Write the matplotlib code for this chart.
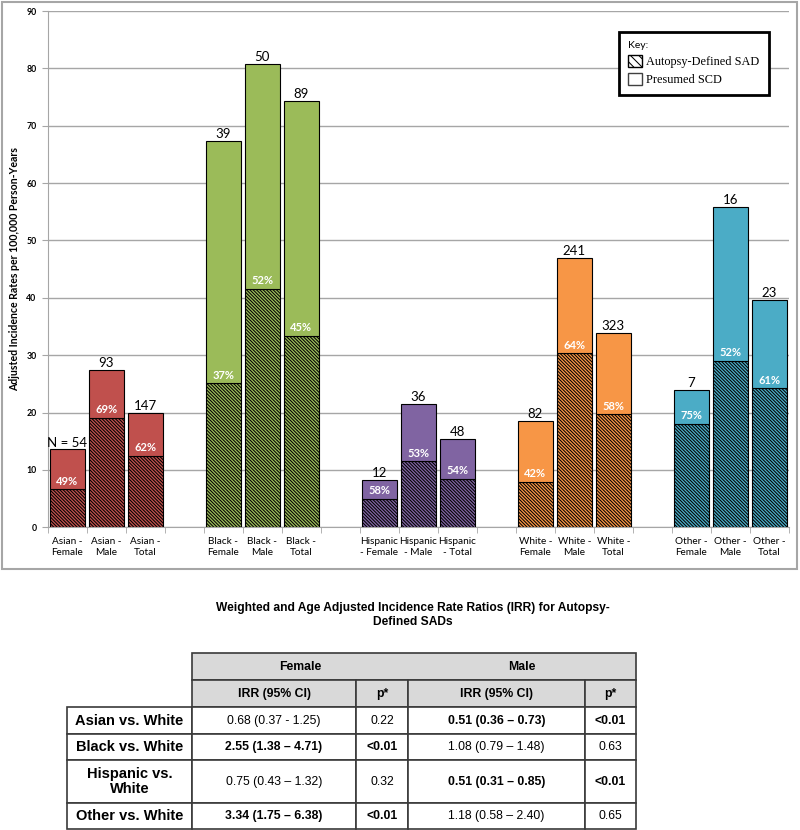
import numpy as np
import matplotlib
matplotlib.use('Agg')
import matplotlib.pyplot as plt
from matplotlib.patches import Patch, Rectangle
from matplotlib import font_manager

# bar chart data
groups = ['Asian', 'Black', 'Hispanic', 'White', 'Other']
group_colors = ['#C0504D', '#9BBB59', '#8064A2', '#F79646', '#4BACC6']
tick_labels = ['Asian -\nFemale', 'Asian -\nMale', 'Asian -\nTotal',
               'Black -\nFemale', 'Black -\nMale', 'Black -\nTotal',
               'Hispanic\n- Female', 'Hispanic\n- Male', 'Hispanic\n- Total',
               'White -\nFemale', 'White -\nMale', 'White -\nTotal',
               'Other -\nFemale', 'Other -\nMale', 'Other -\nTotal']
total_rate = [13.6, 27.4, 20.0, 67.4, 80.8, 74.3, 8.3, 21.5, 15.4,
              18.6, 47.0, 33.9, 24.0, 55.9, 39.7]
sad_rate = [6.6, 19.1, 12.4, 25.1, 41.6, 33.4, 4.9, 11.5, 8.4,
            7.9, 30.3, 19.7, 18.0, 29.0, 24.2]
n_labels = ['N = 54', '93', '147', '39', '50', '89', '12', '36', '48',
            '82', '241', '323', '7', '16', '23']
pct_labels = ['49%', '69%', '62%', '37%', '52%', '45%', '58%', '53%', '54%',
              '42%', '64%', '58%', '75%', '52%', '61%']

# table data
row_labels = ['Asian vs. White', 'Black vs. White', 'Hispanic vs.\nWhite', 'Other vs. White']
female_irr = ['0.68 (0.37 - 1.25)', '2.55 (1.38 \u2013 4.71)', '0.75 (0.43 \u2013 1.32)', '3.34 (1.75 \u2013 6.38)']
female_p = ['0.22', '<0.01', '0.32', '<0.01']
male_irr = ['0.51 (0.36 \u2013 0.73)', '1.08 (0.79 \u2013 1.48)', '0.51 (0.31 \u2013 0.85)', '1.18 (0.58 \u2013 2.40)']
male_p = ['<0.01', '0.63', '<0.01', '0.65']

plt.rcParams['hatch.linewidth'] = 0.75
chart_font = 'Lato'
has_narrow = any(f.name == 'Liberation Sans Narrow' for f in font_manager.fontManager.ttflist)
tab_font = 'Liberation Sans Narrow' if has_narrow else 'Liberation Sans'
tab_scale = 1.0 if has_narrow else 0.84

W, H = 800, 830
def fig_box(x0, y0, x1, y1):
    return [x0 / W, 1 - y1 / H, (x1 - x0) / W, (y1 - y0) / H]

fig = plt.figure(figsize=(8, 8.3), dpi=100)

# outer frame of the chart
fig.add_artist(Rectangle((1.5 / W, 1 - 569 / H), 795 / W, 567 / H, transform=fig.transFigure,
                         fill=False, edgecolor='#A6A6A6', lw=1.5))

ax = fig.add_axes(fig_box(47.7, 11, 789, 527.3))
slots = [g * 4 + k for g in range(len(groups)) for k in range(3)]
bar_colors = [group_colors[g] for g in range(len(groups)) for k in range(3)]
presumed = np.array(total_rate) - np.array(sad_rate)

ax.bar(slots, sad_rate, width=0.89, color=bar_colors, edgecolor='black',
       hatch='\\' * 10, linewidth=0.8, zorder=3)
ax.bar(slots, presumed, bottom=sad_rate, width=0.89, color=bar_colors,
       edgecolor='black', linewidth=0.8, zorder=3)

for x, s, t, n, p in zip(slots, sad_rate, total_rate, n_labels, pct_labels):
    ax.annotate(p, (x, s), xytext=(0, 2), textcoords='offset points', ha='center', va='bottom',
                color='white', fontweight='bold', fontsize=8, family=chart_font, zorder=4)
    ax.annotate(n, (x, t), xytext=(0, 0.5), textcoords='offset points', ha='center', va='bottom',
                color='black', fontsize=9.5, family=chart_font, zorder=4)

ax.set_xlim(-0.5, 18.5)
ax.set_ylim(0, 90)
ax.set_yticks(np.arange(0, 91, 10))
ax.set_xticks(slots)
ax.set_xticklabels(tick_labels, fontsize=7.2, family=chart_font, linespacing=1.3)
ax.set_xticks(np.arange(-0.5, 19, 1), minor=True)
ax.tick_params(axis='x', which='major', length=0, pad=7)
ax.tick_params(axis='x', which='minor', length=4, color='#A6A6A6')
ax.tick_params(axis='y', length=4, color='#A6A6A6', labelsize=6.3, pad=4)
for lab in ax.get_yticklabels():
    lab.set_fontweight('bold')
    lab.set_family(chart_font)
ax.yaxis.grid(True, color='#A6A6A6', lw=1)
ax.set_axisbelow(True)
for side in ['top', 'right']:
    ax.spines[side].set_visible(False)
for side in ['left', 'bottom']:
    ax.spines[side].set_color('#A6A6A6')
ax.set_ylabel('Adjusted Incidence Rates per 100,000 Person-Years', fontsize=7.6,
              fontweight='bold', family=chart_font)
ax.yaxis.set_label_coords(-0.037, 0.5)

handles = [Patch(facecolor='white', edgecolor='black', hatch='\\' * 4, label='Autopsy-Defined SAD'),
           Patch(facecolor='white', edgecolor='#404040', label='Presumed SCD')]
leg = ax.legend(handles=handles, title='Key:', loc='upper right',
                bbox_to_anchor=(775 / W, 1 - 26 / H), bbox_transform=fig.transFigure,
                prop={'family': 'Liberation Serif', 'size': 8.8}, fancybox=False,
                edgecolor='black', framealpha=1, handlelength=1.1, handleheight=1.1,
                handletextpad=0.4, labelspacing=0.4, borderpad=0.75, alignment='left',
                title_fontproperties={'family': chart_font, 'size': 7.5})
leg.get_frame().set_linewidth(2)
leg.set_zorder(5)

# table title
fig.text(413 / W, 1 - 615 / H, 'Weighted and Age Adjusted Incidence Rate Ratios (IRR) for Autopsy-\nDefined SADs',
         ha='center', va='center', fontsize=10.3 * tab_scale, fontweight='bold', family=tab_font,
         linespacing=1.25)

# table
tax = fig.add_axes(fig_box(67, 653, 636, 829))
tax.set_xlim(0, 569)
tax.set_ylim(176, 0)
tax.axis('off')
col_edges = [0, 125, 289, 341, 518, 569]
row_edges = [0, 27, 54, 81, 107, 150, 176]
line_c = '#3A3A3A'

def cell(c0, c1, r0, r1, fill='white'):
    tax.add_patch(Rectangle((col_edges[c0], row_edges[r0]), col_edges[c1] - col_edges[c0],
                            row_edges[r1] - row_edges[r0], facecolor=fill, edgecolor=line_c,
                            lw=1.2, clip_on=False))

def cell_text(c0, c1, r, txt, bold=False, font=tab_font, size=10.5 * tab_scale):
    tax.text((col_edges[c0] + col_edges[c1]) / 2, (row_edges[r] + row_edges[r + 1]) / 2, txt,
             ha='center', va='center', fontsize=size, fontweight='bold' if bold else 'normal',
             family=font, linespacing=1.15)

cell(1, 5, 0, 1, '#D9D9D9')
cell_text(1, 3, 0, 'Female', bold=True)
cell_text(3, 5, 0, 'Male', bold=True)
for c, txt in enumerate(['IRR (95% CI)', 'p*', 'IRR (95% CI)', 'p*']):
    cell(c + 1, c + 2, 1, 2, '#D9D9D9')
    cell_text(c + 1, c + 2, 1, txt, bold=True)

for r in range(len(row_labels)):
    rr = r + 2
    cell(0, 1, rr, rr + 1)
    cell_text(0, 1, rr, row_labels[r], bold=True, font='Liberation Sans', size=10.5)
    values = [female_irr[r], female_p[r], male_irr[r], male_p[r]]
    sig = [female_p[r] == '<0.01'] * 2 + [male_p[r] == '<0.01'] * 2
    for c in range(4):
        cell(c + 1, c + 2, rr, rr + 1)
        cell_text(c + 1, c + 2, rr, values[c], bold=sig[c])

fig.savefig('out.png', dpi=100)
